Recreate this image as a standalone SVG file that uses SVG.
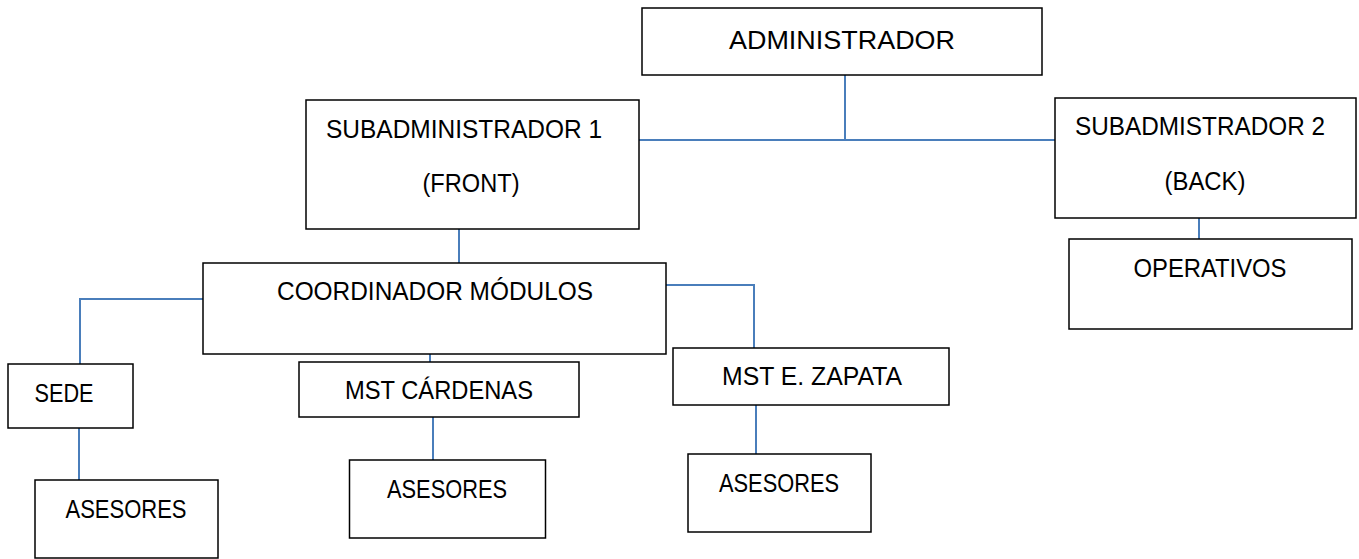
<svg xmlns="http://www.w3.org/2000/svg" width="1359" height="559" viewBox="0 0 1359 559">
<style>
.box{fill:#fff;stroke:#000;stroke-width:1.5}
.lbl{font-family:"Liberation Sans",Arial,sans-serif;font-size:25px;fill:#000;text-anchor:middle}
.con{stroke:#4a7ebb;stroke-width:2;fill:none}
</style>
<rect width="1359" height="559" fill="#fff"/>
<g id="connectors">
<path class="con" d="M845 75V140M639 140H1055"/>
<path class="con" d="M459 229V263"/>
<path class="con" d="M1199 218V239"/>
<path class="con" d="M203 299H80V364"/>
<path class="con" d="M79 428V480"/>
<path class="con" d="M430 354V362"/>
<path class="con" d="M433 417V460"/>
<path class="con" d="M666 285H754V348"/>
<path class="con" d="M756 405V454"/>
</g>
<g id="administrador"><rect class="box" x="642" y="8" width="400" height="67"/><text class="lbl" x="842" y="49" textLength="226" lengthAdjust="spacingAndGlyphs">ADMINISTRADOR</text></g>
<g id="sub1"><rect class="box" x="306" y="100" width="333" height="129"/><text class="lbl" x="464" y="138" textLength="276" lengthAdjust="spacingAndGlyphs">SUBADMINISTRADOR 1</text><text class="lbl" x="471" y="192" textLength="97" lengthAdjust="spacingAndGlyphs">(FRONT)</text></g>
<g id="sub2"><rect class="box" x="1055" y="98" width="301" height="120"/><text class="lbl" x="1200" y="135" textLength="250" lengthAdjust="spacingAndGlyphs">SUBADMISTRADOR 2</text><text class="lbl" x="1205" y="190" textLength="81" lengthAdjust="spacingAndGlyphs">(BACK)</text></g>
<g id="operativos"><rect class="box" x="1069" y="239" width="283" height="90"/><text class="lbl" x="1210" y="277" textLength="153" lengthAdjust="spacingAndGlyphs">OPERATIVOS</text></g>
<g id="coordinador"><rect class="box" x="203" y="263" width="463" height="91"/><text class="lbl" x="435" y="300" textLength="316" lengthAdjust="spacingAndGlyphs">COORDINADOR MÓDULOS</text></g>
<g id="sede"><rect class="box" x="8" y="364" width="125" height="64"/><text class="lbl" x="64" y="402" textLength="59" lengthAdjust="spacingAndGlyphs">SEDE</text></g>
<g id="asesores1"><rect class="box" x="35" y="480" width="183" height="78"/><text class="lbl" x="126" y="518" textLength="121" lengthAdjust="spacingAndGlyphs">ASESORES</text></g>
<g id="cardenas"><rect class="box" x="299" y="362" width="280" height="55"/><text class="lbl" x="439" y="399" textLength="188" lengthAdjust="spacingAndGlyphs">MST CÁRDENAS</text></g>
<g id="asesores2"><rect class="box" x="349.5" y="460" width="196" height="78"/><text class="lbl" x="447" y="498" textLength="120" lengthAdjust="spacingAndGlyphs">ASESORES</text></g>
<g id="zapata"><rect class="box" x="673" y="348" width="276" height="57"/><text class="lbl" x="812" y="385" textLength="180" lengthAdjust="spacingAndGlyphs">MST E. ZAPATA</text></g>
<g id="asesores3"><rect class="box" x="688" y="454" width="183" height="78"/><text class="lbl" x="779" y="492" textLength="120" lengthAdjust="spacingAndGlyphs">ASESORES</text></g>
</svg>
